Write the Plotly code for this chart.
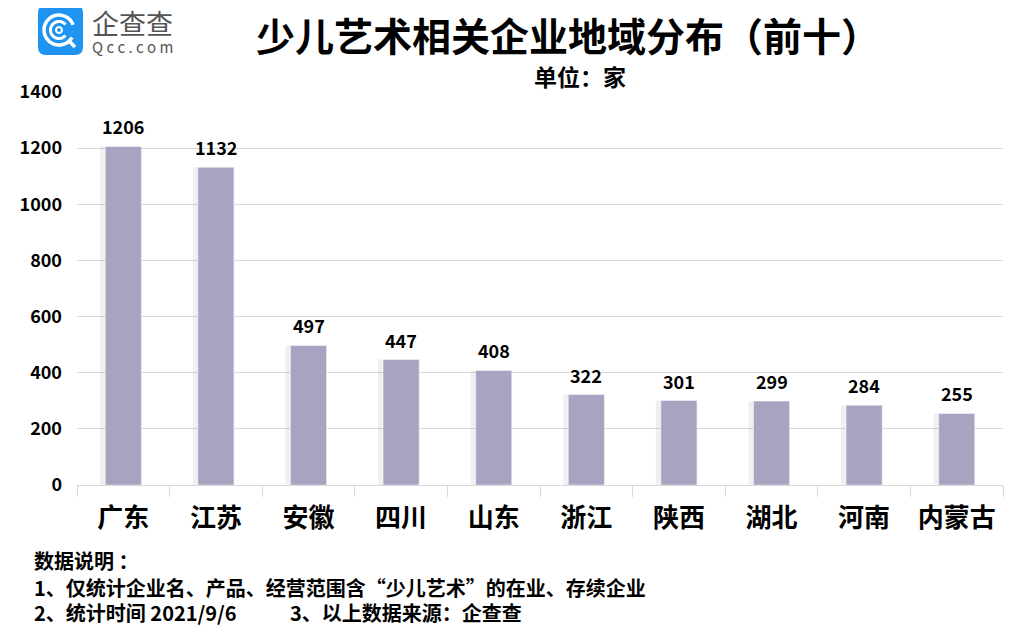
import math
import plotly.graph_objects as go

categories = ["广东", "江苏", "安徽", "四川", "山东", "浙江", "陕西", "湖北", "河南", "内蒙古"]
values = [1206, 1132, 497, 447, 408, 322, 301, 299, 284, 255]
y_ticks = [0, 200, 400, 600, 800, 1000, 1200, 1400]

FONT = "Noto Sans CJK SC"
OFF = 8  # page body margin
W, H = 1022 - OFF, 643 - OFF
# plot area in reference pixels: x 77..1003, y 92..485
L, T = 77 - OFF, 92 - OFF
R, B = W - (1003 - OFF), H - (485 - OFF)
PW, PH = W - L - R, H - T - B


def px(x):
    return (x - OFF - L) / PW


def py(y):
    return (H - B - (y - OFF)) / PH


fig = go.Figure()
fig.add_trace(go.Bar(
    x=categories, y=values, width=0.45, offset=-0.25,
    marker=dict(color="rgba(0,0,0,0.06)", line=dict(width=0)),
    hoverinfo="skip", showlegend=False,
))
fig.add_trace(go.Bar(
    x=categories, y=values, width=0.39, offset=-0.195,
    marker=dict(color="#A9A3C2", line=dict(color="#ffffff", width=0.5)),
    hoverinfo="x+y", showlegend=False,
))

# value labels
for c, v in zip(categories, values):
    fig.add_annotation(x=c, y=v, xref="x", yref="y", text=str(v), showarrow=False,
                       yanchor="middle", yshift=20,
                       font=dict(family=FONT, size=18, color="#000", weight="bold"))

fig.update_layout(
    width=W, height=H, barmode="overlay",
    margin=dict(l=L, r=R, t=T, b=B, autoexpand=False),
    paper_bgcolor="white", plot_bgcolor="white",
    font=dict(family=FONT, color="#000000"),
    xaxis=dict(
        tickfont=dict(family=FONT, size=26, color="#000", weight="bold"),
        showline=True, linecolor="#d9d9d9", linewidth=1,
        ticks="outside", tickson="boundaries", ticklen=11, tickcolor="#d9d9d9",
        showgrid=False, range=[-0.5, 9.5], ticklabelstandoff=10,
    ),
    yaxis=dict(
        range=[0, 1400], tickvals=y_ticks, ticktext=[str(v) for v in y_ticks],
        tickfont=dict(family=FONT, size=18, color="#000", weight="bold"),
        showgrid=True, gridcolor="#d9d9d9", gridwidth=1, zeroline=False,
        ticks="", ticklabelstandoff=14,
    ),
)


def ann(text, x, y, size, xanchor="center", color="#000", weight="bold"):
    fig.add_annotation(text=text, xref="paper", yref="paper", x=px(x), y=py(y),
                       xanchor=xanchor, yanchor="middle", showarrow=False,
                       font=dict(family=FONT, size=size, color=color, weight=weight))


# Title
ann("少儿艺术相关企业地域分布（前十）", 568, 34, 39)
ann("单位：家", 580, 76, 23)

# Logo: rounded blue square
x0, x1, y0, y1, rr = 38, 83, 5, 55, 8
path = (f"M {px(x0 + rr)} {py(y0)} L {px(x1 - rr)} {py(y0)} "
        f"Q {px(x1)} {py(y0)} {px(x1)} {py(y0 + rr)} L {px(x1)} {py(y1 - rr)} "
        f"Q {px(x1)} {py(y1)} {px(x1 - rr)} {py(y1)} L {px(x0 + rr)} {py(y1)} "
        f"Q {px(x0)} {py(y1)} {px(x0)} {py(y1 - rr)} L {px(x0)} {py(y0 + rr)} "
        f"Q {px(x0)} {py(y0)} {px(x0 + rr)} {py(y0)} Z")
fig.add_shape(type="path", xref="paper", yref="paper", path=path,
              fillcolor="#1F93F1", line=dict(width=0))


def arc(cx, cy, r, a0, a1, n=40):
    pts = []
    for i in range(n + 1):
        a = math.radians(a0 + (a1 - a0) * i / n)
        pts.append((cx + r * math.cos(a), cy - r * math.sin(a)))
    return "M " + " L ".join(f"{px(x)} {py(y)}" for x, y in pts)


fig.add_shape(type="path", xref="paper", yref="paper", path=arc(59, 30, 15, 20, 330),
              line=dict(color="white", width=3.5))
fig.add_shape(type="path", xref="paper", yref="paper", path=arc(59, 30, 8.5, 40, 320),
              line=dict(color="white", width=3))
fig.add_shape(type="path", xref="paper", yref="paper", path=arc(59, 30, 3, 0, 360, 20),
              line=dict(color="white", width=2))
fig.add_shape(type="line", xref="paper", yref="paper",
              x0=px(68), y0=py(40), x1=px(75), y1=py(47),
              line=dict(color="white", width=3.5))

ann("企查查", 90, 22, 27, xanchor="left", color="#555", weight="normal")
ann("Q c c . c o m", 90, 47, 15, xanchor="left", color="#555", weight="normal")

# Footer notes
ann("数据说明&nbsp;：", 32, 560, 20, xanchor="left")
ann("1、仅统计企业名、产品、经营范围含“少儿艺术”的在业、存续企业", 32, 587, 20, xanchor="left")
ann("2、统计时间&nbsp;2021/9/6", 32, 612, 20, xanchor="left")
ann("3、以上数据来源：企查查", 288, 612, 20, xanchor="left")

fig.write_html("out.html")
